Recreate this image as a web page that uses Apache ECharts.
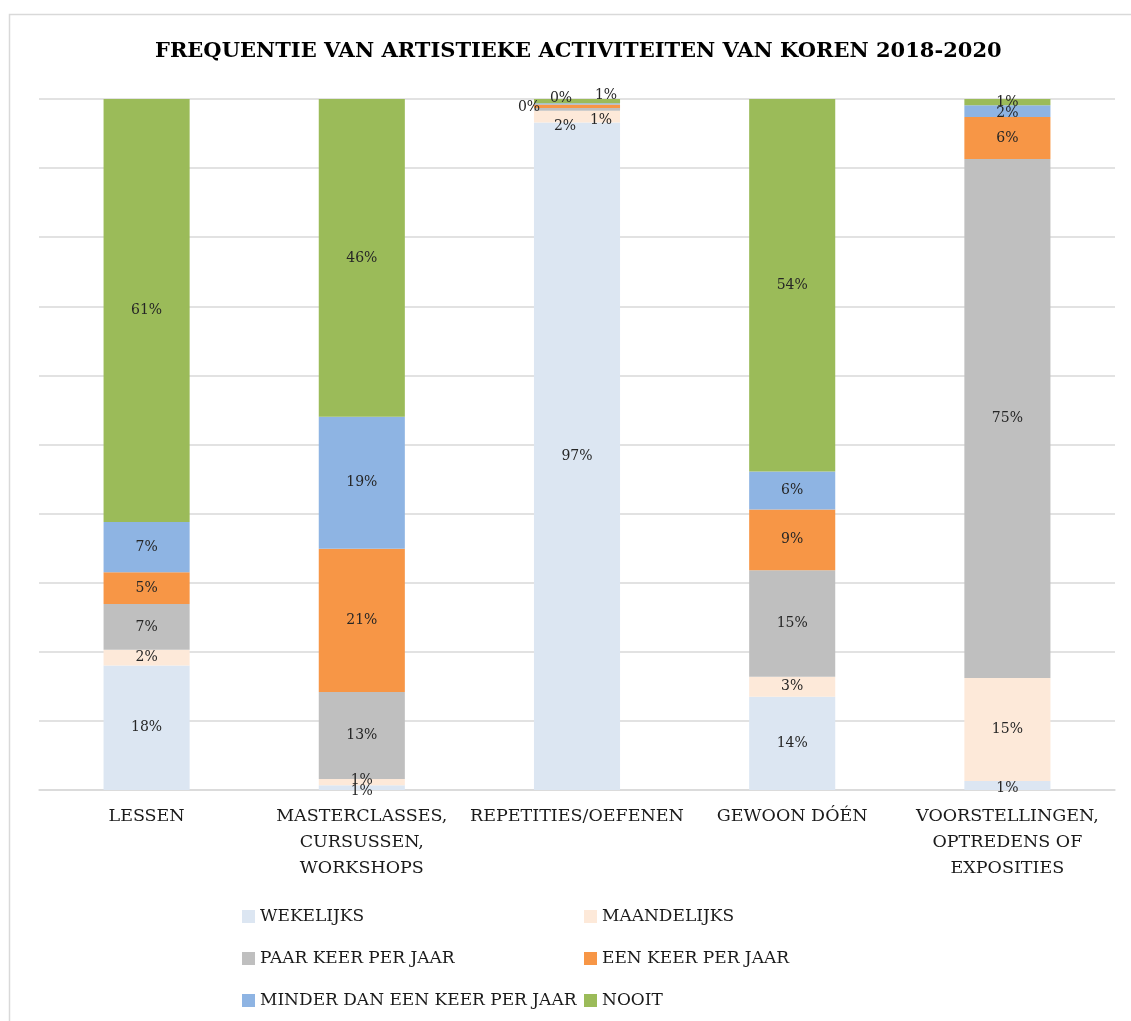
<!DOCTYPE html>
<html>
<head>
<meta charset="utf-8">
<script src="https://cdn.jsdelivr.net/npm/echarts@6/dist/echarts.min.js"></script>
<style>
html,body{margin:0;padding:0;background:#fff;}
#chart{width:1131px;height:1021px;}
</style>
</head>
<body>
<div id="chart"></div>
<script>
const categories = ['LESSEN', 'MASTERCLASSES,\nCURSUSSEN,\nWORKSHOPS', 'REPETITIES/OEFENEN', 'GEWOON DÓÉN', 'VOORSTELLINGEN,\nOPTREDENS OF\nEXPOSITIES'];
const seriesNames = ['WEKELIJKS', 'MAANDELIJKS', 'PAAR KEER PER JAAR', 'EEN KEER PER JAAR', 'MINDER DAN EEN KEER PER JAAR', 'NOOIT'];
const wekelijks   = [18.0, 0.7, 96.6, 13.5, 1.3];
const maandelijks = [2.3, 0.9, 1.7, 2.9, 14.9];
const paarKeer    = [6.6, 12.6, 0.4, 15.4, 75.1];
const eenKeer     = [4.6, 20.7, 0.5, 8.8, 6.1];
const minderDan   = [7.3, 19.1, 0.2, 5.5, 1.7];
const nooit       = [61.2, 46.0, 0.6, 53.9, 0.9];
const yTicks = [0, 10, 20, 30, 40, 50, 60, 70, 80, 90, 100];

const allValues = [wekelijks, maandelijks, paarKeer, eenKeer, minderDan, nooit];
const colors = ['#DCE6F2', '#FDE9D9', '#BFBFBF', '#F79646', '#8EB4E3', '#9BBB59'];
const FONT = 'DejaVu Serif';

// label nudges for tiny overlapping segments: [seriesIndex-categoryIndex] -> [dx, dy]
const nudges = {
  '0-1': [0, 4], '1-1': [0, -2],
  '1-2': [-12, 10], '2-2': [-48, -2], '3-2': [24, 14], '4-2': [-16, -5], '5-2': [29, -6],
  '0-4': [0, 3], '4-4': [0, 2], '5-4': [0, 0]
};

const series = seriesNames.map((name, si) => ({
  name: name,
  type: 'bar',
  stack: 'total',
  barWidth: '40%',
  itemStyle: { color: colors[si] },
  label: {
    show: true,
    position: 'inside',
    fontFamily: FONT,
    fontSize: 14,
    color: '#262626',
    formatter: p => Math.round(p.value) + '%'
  },
  data: allValues[si].map((v, ci) => {
    const n = nudges[si + '-' + ci];
    const d = { value: v };
    if (n) d.label = { offset: n };
    return d;
  })
}));

const chart = echarts.init(document.getElementById('chart'));
chart.setOption({
  backgroundColor: '#fff',
  animation: false,
  title: {
    text: 'FREQUENTIE VAN ARTISTIEKE ACTIVITEITEN VAN KOREN 2018-2020',
    left: 150,
    top: 36,
    textStyle: { fontFamily: FONT, fontWeight: 'bold', fontSize: 21, color: '#000' }
  },
  graphic: [{
    type: 'rect',
    shape: { x: 9.5, y: 14.5, width: 1200, height: 1100 },
    style: { fill: 'none', stroke: '#D9D9D9', lineWidth: 1.5 },
    silent: true
  }],
  grid: { left: 39, right: 16, top: 99, bottom: 231, containLabel: false },
  xAxis: {
    type: 'category',
    data: categories,
    axisLine: { lineStyle: { color: '#D9D9D9', width: 1.5 } },
    axisTick: { show: false },
    axisLabel: { fontFamily: FONT, fontSize: 17.5, color: '#1a1a1a', lineHeight: 26, margin: 13, interval: 0 }
  },
  yAxis: {
    type: 'value',
    min: yTicks[0],
    max: yTicks[yTicks.length - 1],
    interval: 10,
    axisLabel: { show: false },
    axisLine: { show: false },
    axisTick: { show: false },
    splitLine: { lineStyle: { color: '#D9D9D9', width: 1.5 } }
  },
  legend: [
    {
      data: [seriesNames[0], seriesNames[2], seriesNames[4]],
      orient: 'vertical', left: 237, top: 903, itemGap: 25, itemWidth: 13, itemHeight: 13,
      icon: 'rect',
      textStyle: { fontFamily: FONT, fontSize: 17, color: '#1a1a1a', lineHeight: 16 }
    },
    {
      data: [seriesNames[1], seriesNames[3], seriesNames[5]],
      orient: 'vertical', left: 579, top: 903, itemGap: 25, itemWidth: 13, itemHeight: 13,
      icon: 'rect',
      textStyle: { fontFamily: FONT, fontSize: 17, color: '#1a1a1a', lineHeight: 16 }
    }
  ],
  series: series
});
</script>
</body>
</html>
